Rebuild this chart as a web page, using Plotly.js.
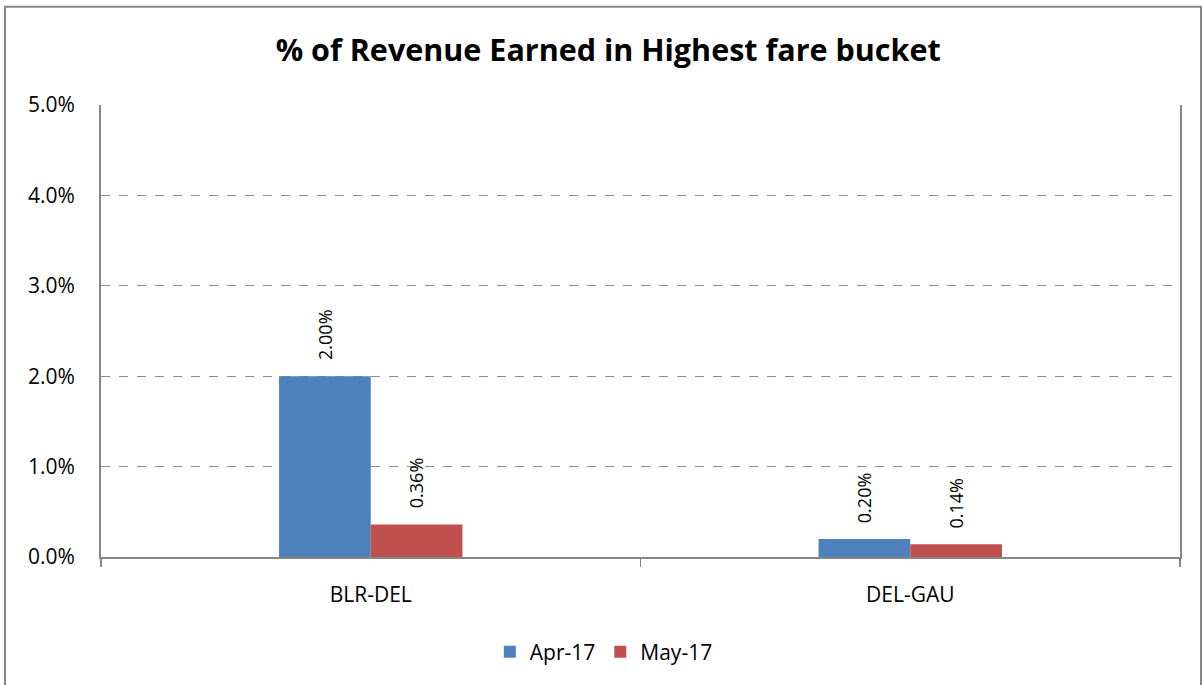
<!DOCTYPE html>
<html>
<head>
<meta charset="utf-8">
<script src="https://cdn.plot.ly/plotly-3.0.1.min.js"></script>
<style>html,body{margin:0;padding:0;background:#fff;}#chart{width:1202px;height:685px;}</style>
</head>
<body>
<div id="chart"></div>
<script>
const categories = ["BLR-DEL", "DEL-GAU"];
const seriesNames = ["Apr-17", "May-17"];
const apr17 = [0.0200, 0.0020];
const may17 = [0.0036, 0.0014];
const yTickVals = [0, 0.01, 0.02, 0.03, 0.04, 0.05];
const yTickText = ["0.0%", "1.0%", "2.0%", "3.0%", "4.0%", "5.0%"];

const FONT = "'Open Sans', 'Noto Sans', sans-serif";
const colors = ["#4F81BD", "#C0504D"];
const series = [apr17, may17];
const barShift = [-46, 46];

const traces = series.map((vals, i) => ({
  type: "bar",
  name: seriesNames[i],
  x: categories,
  y: vals,
  marker: {color: colors[i]},
  hoverinfo: "none"
}));

const annotations = [];
series.forEach((vals, i) => {
  vals.forEach((v, j) => {
    annotations.push({
      x: categories[j], y: v, xref: "x", yref: "y",
      text: (v * 100).toFixed(2) + "%",
      showarrow: false,
      textangle: -90,
      xanchor: "center", yanchor: "bottom",
      xshift: barShift[i], yshift: 14,
      font: {family: FONT, size: 18, color: "#000"}
    });
  });
});

const layout = {
  width: 1202,
  height: 685,
  margin: {l: 101, r: 22, t: 105, b: 125},
  paper_bgcolor: "#fff",
  plot_bgcolor: "#fff",
  font: {family: FONT, color: "#000"},
  title: {
    text: "<b>% of Revenue Earned in Highest fare bucket</b>",
    font: {family: FONT, size: 30.5, color: "#000"},
    x: 0.506, xanchor: "center",
    y: 0.927, yanchor: "middle"
  },
  barmode: "group",
  bargap: 0.66,
  bargroupgap: 0,
  showlegend: true,
  legend: {
    orientation: "h",
    x: 0.466, xanchor: "center",
    y: -0.165, yanchor: "top",
    font: {family: FONT, size: 21, color: "#000"},
    itemwidth: 30,
    traceorder: "normal"
  },
  xaxis: {
    type: "category",
    showline: true,
    linecolor: "#868686",
    linewidth: 2,
    ticks: "outside",
    tickson: "boundaries",
    ticklen: 8,
    tickcolor: "#868686",
    tickwidth: 1.5,
    showgrid: false,
    tickfont: {family: FONT, size: 21, color: "#000"},
    ticklabelstandoff: 18
  },
  yaxis: {
    range: [0, 0.05],
    tickvals: yTickVals,
    ticktext: yTickText,
    showline: true,
    mirror: true,
    linecolor: "#868686",
    linewidth: 2,
    ticks: "",
    showgrid: true,
    gridcolor: "#8c8c8c",
    griddash: "dash",
    gridwidth: 1.3,
    zeroline: false,
    tickfont: {family: FONT, size: 21, color: "#000"},
    ticklabelstandoff: 20
  },
  annotations: annotations,
  shapes: [{
    type: "rect", xref: "paper", yref: "paper",
    x0: -96 / 1079, x1: 1100 / 1079,
    y0: -130 / 455, y1: 554 / 455,
    line: {color: "#868686", width: 2},
    fillcolor: "rgba(0,0,0,0)",
    layer: "below"
  }]
};

Plotly.newPlot("chart", traces, layout, {displayModeBar: false, staticPlot: true});
</script>
</body>
</html>
